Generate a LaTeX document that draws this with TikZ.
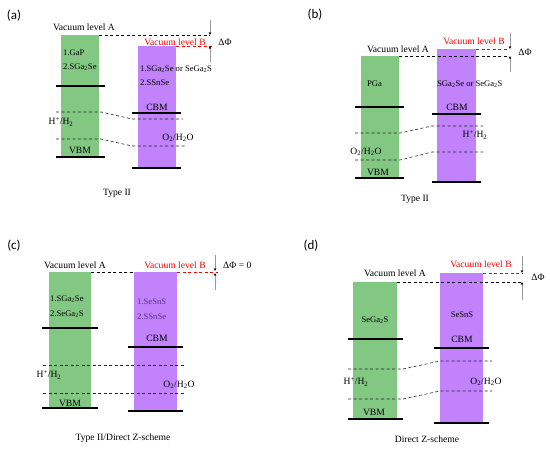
\documentclass[tikz,border=0pt]{standalone}
\usepackage{fontspec}
\setmainfont{Liberation Serif}
\newfontfamily\tagfont{Carlito}
\usetikzlibrary{arrows.meta,positioning}
\definecolor{Leaf}{HTML}{82C882}
\definecolor{Lilac}{HTML}{C182FC}
\definecolor{Plum}{HTML}{5A2D86}
\definecolor{Rule}{HTML}{9A9A9A}

\tikzset{
  bandA/.style={fill=Leaf,inner sep=0pt,outer sep=0pt,anchor=north west},
  bandB/.style={fill=Lilac,inner sep=0pt,outer sep=0pt,anchor=north west},
  edge/.style={line width=1.7pt},
  vac/.style={dash pattern=on 3pt off 2.5pt,line width=0.6pt},
  vacB/.style={vac,red},
  redox/.style={dash pattern=on 3pt off 2.5pt,line width=0.6pt,black!85},
  gapbar/.style={Rule,line width=0.5pt,-{Stealth[length=3pt,width=2.6pt,color=black]}},
  lbl/.style={font=\fontsize{9.6}{11}\selectfont,inner sep=0pt},
  mat/.style={font=\fontsize{8.6}{10}\selectfont,inner sep=0pt},
  tag/.style={font=\tagfont\fontsize{13}{15}\selectfont,inner sep=0pt}
}

\begin{document}
\begin{tikzpicture}[x=1pt,y=-1pt]
  \useasboundingbox (0,0) rectangle (550,449);

  % (a) Type II
  \node[tag] (ta) at (14,16) {(a)};
  \node[bandA,minimum width=38pt,minimum height=122pt] (ga) at (61,35) {};
  \node[bandB,minimum width=38pt,minimum height=122pt] (pa) at (138,46) {};
  \coordinate (ka) at (210,35);
  \coordinate (kb) at (213,46);
  \draw[vac] (ga.north east) -- (ka);
  \draw[vacB] (pa.north east) -- (kb);
  \draw[gapbar] (210,20) -- (ka);
  \draw[gapbar] (210,62) -- (210,46);
  \node[lbl] (va) at (84,27) {Vacuum level A};
  \node[lbl,red] (vb) at (175,42) {Vacuum level B};
  \node[lbl] (dfa) at (225,42) {ΔΦ};
  \draw[edge] (56,86) -- (105,86);
  \draw[edge] (56,157) -- (105,157);
  \draw[edge] (132,113) -- (181,113);
  \draw[edge] (132,168) -- (181,168);
  \node[mat,anchor=west] (ma1) at (63,53) {1.GaP};
  \node[mat,anchor=west] (ma2) at (63,67) {2.SGa\textsubscript{2}Se};
  \node[mat,anchor=west] (mb1) at (140,69) {1.SGa\textsubscript{2}Se or SeGa\textsubscript{2}S};
  \node[mat,anchor=west] (mb2) at (140,83) {2.SSnSe};
  \node[lbl] (ca) at (157,107) {CBM};
  \node[lbl] (vba) at (80,150) {VBM};
  \draw[redox] (56,112) -- (101,112) -- (132,119) -- (183,119);
  \draw[redox] (56,139) -- (101,139) -- (132,146) -- (185,146);
  \node[lbl] (ha) at (61,122) {H\textsuperscript{+}/H\textsubscript{2}};
  \node[lbl] (oa) at (178,138) {O\textsubscript{2}/H\textsubscript{2}O};
  \node[lbl] (cap_a) at (117,193) {Type II};

  % (b) Type II
  \node[tag] (tb) at (315,15) {(b)};
  \node[bandA,minimum width=38pt,minimum height=122pt] (gb) at (361,56) {};
  \node[bandB,minimum width=39pt,minimum height=133pt] (pb) at (437,49) {};
  \coordinate (la) at (508,56);
  \coordinate (lb) at (508,49);
  \draw[vac] (gb.north east) -- (la);
  \draw[vacB] (pb.north east) -- (lb);
  \draw[gapbar] (510,33) -- (510,49);
  \draw[gapbar] (510,72) -- (510,56);
  \node[lbl] (vab) at (398,49) {Vacuum level A};
  \node[lbl,red] (vbb) at (474,41) {Vacuum level B};
  \node[lbl] (dfb) at (525,52) {ΔΦ};
  \draw[edge] (355,107) -- (404,107);
  \draw[edge] (355,178) -- (404,178);
  \draw[edge] (432,114) -- (481,114);
  \draw[edge] (432,182) -- (481,182);
  \node[mat,anchor=west] (mpg) at (367,84) {PGa};
  \node[mat,anchor=west] (msg) at (437,84) {SGa\textsubscript{2}Se or SeGa\textsubscript{2}S};
  \node[lbl] (cb) at (457,107) {CBM};
  \node[lbl] (vbb2) at (378,172) {VBM};
  \draw[redox] (355,133) -- (400,133) -- (432,126) -- (483,126);
  \draw[redox] (355,160) -- (400,160) -- (432,152) -- (483,152);
  \node[lbl] (hb) at (475,135) {H\textsuperscript{+}/H\textsubscript{2}};
  \node[lbl] (ob) at (366,152) {O\textsubscript{2}/H\textsubscript{2}O};
  \node[lbl] (cap_b) at (415,199) {Type II};

  % (c) Type II / direct Z-scheme
  \node[tag] (tc) at (14,246) {(c)};
  \node[bandA,minimum width=42pt,minimum height=136pt] (gc) at (49,272) {};
  \node[bandB,minimum width=43pt,minimum height=139pt] (pc) at (134,272) {};
  \coordinate (mc) at (218,272);
  \draw[vac] (gc.north east) -- (pc.north west);
  \draw[vacB] (pc.north east) -- (mc);
  \draw[gapbar] (215,255) -- (215,271);
  \draw[gapbar] (215,290) -- (215,273);
  \node[lbl] (vac_c) at (75,265) {Vacuum level A};
  \node[lbl,red] (vbc) at (175,265) {Vacuum level B};
  \node[lbl,anchor=west] (dfc) at (223,265) {ΔΦ = 0};
  \draw[edge] (42,328) -- (98,328);
  \draw[edge] (42,408) -- (98,408);
  \draw[edge] (128,347) -- (183,347);
  \draw[edge] (128,411) -- (183,411);
  \node[mat,anchor=west] (mc1) at (50,299) {1.SGa\textsubscript{2}Se};
  \node[mat,anchor=west] (mc2) at (50,314) {2.SeGa\textsubscript{2}S};
  \node[mat,anchor=west,Plum] (md1) at (137,302) {1.SeSnS};
  \node[mat,anchor=west,Plum] (md2) at (137,317) {2.SSnSe};
  \node[lbl] (cc) at (157,338) {CBM};
  \node[lbl] (vcc) at (70,403) {VBM};
  \draw[redox] (43,365) -- (185,365);
  \draw[redox] (43,393) -- (185,393);
  \node[lbl] (hc) at (49,375) {H\textsuperscript{+}/H\textsubscript{2}};
  \node[lbl] (oc) at (179,385) {O\textsubscript{2}/H\textsubscript{2}O};
  \node[lbl] (cap_c) at (123,438) {Type II/Direct Z-scheme};

  % (d) direct Z-scheme
  \node[tag] (td) at (311,246) {(d)};
  \node[bandA,minimum width=44pt,minimum height=137pt] (gd) at (353,282) {};
  \node[bandB,minimum width=43pt,minimum height=150pt] (pd) at (440,273) {};
  \coordinate (na) at (523,282);
  \coordinate (nb) at (523,273);
  \draw[vac] (gd.north east) -- (na);
  \draw[vacB] (pd.north east) -- (nb);
  \draw[gapbar] (522,256) -- (522,273);
  \draw[gapbar] (522,300) -- (522,282);
  \node[lbl] (vad) at (395,273) {Vacuum level A};
  \node[lbl,red] (vbd) at (481,264) {Vacuum level B};
  \node[lbl] (dfd) at (538,277) {ΔΦ};
  \draw[edge] (348,339) -- (403,339);
  \draw[edge] (348,419) -- (403,419);
  \draw[edge] (434,348) -- (489,348);
  \draw[edge] (434,423) -- (489,423);
  \node[mat] (mge) at (375,320) {SeGa\textsubscript{2}S};
  \node[mat] (mse) at (462,315) {SeSnS};
  \node[lbl] (cd) at (462,339) {CBM};
  \node[lbl] (vdd) at (374,412) {VBM};
  \draw[redox] (348,369) -- (403,369) -- (440,361) -- (492,361);
  \draw[redox] (348,399) -- (403,399) -- (440,391) -- (492,391);
  \node[lbl] (hd) at (356,382) {H\textsuperscript{+}/H\textsubscript{2}};
  \node[lbl] (od) at (486,382) {O\textsubscript{2}/H\textsubscript{2}O};
  \node[lbl] (cap_d) at (427,439) {Direct Z-scheme};
\end{tikzpicture}
\end{document}
